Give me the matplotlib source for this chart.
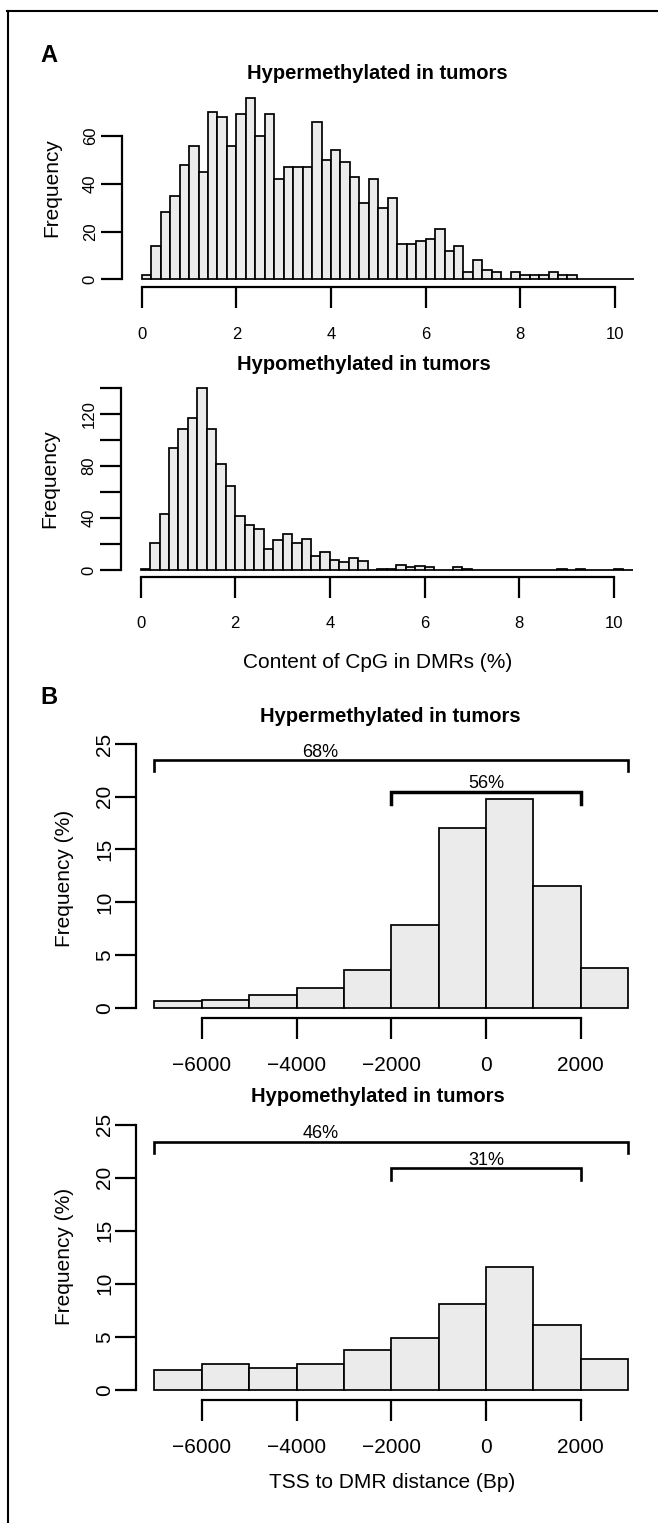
import matplotlib
matplotlib.use('Agg')
import matplotlib.pyplot as plt
from matplotlib.lines import Line2D
import numpy as np

plt.rcParams['font.family'] = ['Liberation Sans', 'DejaVu Sans']

W, H = 658, 1523

# ---------------- data ----------------
cpg_bin_start = 0.0
cpg_bin_width = 0.2
hyper_cpg_counts = [2, 14, 28, 35, 48, 56, 45, 70, 68, 56,
                    69, 76, 60, 69, 42, 47, 47, 47, 66, 50,
                    54, 49, 43, 32, 42, 30, 34, 15, 15, 16,
                    17, 21, 12, 14, 3, 8, 4, 3, 0, 3,
                    2, 2, 2, 3, 2, 2, 0, 0, 0, 0,
                    0, 0]
hypo_cpg_counts = [1, 21, 43, 94, 109, 117, 140, 109, 82, 65,
                   42, 35, 32, 16, 23, 28, 21, 24, 11, 14,
                   8, 6, 9, 7, 0, 1, 1, 4, 2, 3,
                   2, 0, 0, 2, 1, 0, 0, 0, 0, 0,
                   0, 0, 0, 0, 1, 0, 1, 0, 0, 0,
                   1, 0]
cpg_xticks = [0, 2, 4, 6, 8, 10]
hyper_cpg_yticks = [0, 20, 40, 60]
hypo_cpg_yticks = [0, 20, 40, 60, 80, 100, 120, 140]
hypo_cpg_ylabels = ['0', '', '40', '', '80', '', '120', '']

tss_bin_start = -7000
tss_bin_width = 1000
hyper_tss_pct = [0.63, 0.73, 1.23, 1.9, 3.57, 7.84, 17.07, 19.75, 11.57, 3.79]
hypo_tss_pct = [1.86, 2.42, 2.04, 2.42, 3.71, 4.84, 8.1, 11.6, 6.15, 2.86]
tss_xticks = [-6000, -4000, -2000, 0, 2000]
tss_yticks = [0, 5, 10, 15, 20, 25]

# (start, end, label, line y, tick bottom y, label x, label y, linewidth)
hyper_brackets = [(-7000, 3000, '68%', 23.45, 22.4, -3500, 23.8, 1.9),
                  (-2000, 2000, '56%', 20.45, 19.3, 0, 20.8, 2.5)]
hypo_brackets = [(-7000, 3000, '46%', 23.4, 22.3, -3500, 23.7, 1.9),
                 (-2000, 2000, '31%', 20.9, 19.8, 0, 21.2, 1.9)]

BAR_FACE = '#EBEBEB'

fig = plt.figure(figsize=(W / 100, H / 100), dpi=100)


def px_axes(l, r, t, b):
    return fig.add_axes([l / W, 1 - b / H, (r - l) / W, (b - t) / H])


def ftext(x, y, s, **kw):
    fig.text(x / W, 1 - y / H, s, **kw)


def style(ax, xticks, yticks, xlim, ylim, tick_fs, xpad, ypad):
    ax.set_xlim(xlim)
    ax.set_ylim(ylim)
    for s in ['top', 'right']:
        ax.spines[s].set_visible(False)
    ax.spines['left'].set_bounds(yticks[0], yticks[-1])
    ax.spines['bottom'].set_bounds(xticks[0], xticks[-1])
    for s in ['left', 'bottom']:
        ax.spines[s].set_linewidth(1.6)
    ax.set_xticks(xticks)
    ax.set_yticks(yticks)
    ax.tick_params(axis='both', direction='out', length=15, width=1.6,
                   labelsize=tick_fs)
    ax.tick_params(axis='x', pad=xpad)
    ax.tick_params(axis='y', pad=ypad, labelrotation=90)
    for lab in ax.get_yticklabels():
        lab.set_va('center')
    ax.patch.set_visible(False)


def draw_hist(ax, start, width, values):
    lefts = start + width * np.arange(len(values))
    ax.bar(lefts, values, width=width, align='edge', color=BAR_FACE,
           edgecolor='black', linewidth=1.25)


# ---------------- Panel A: hyper ----------------
a1 = px_axes(122.1, 653.4, 90.5, 286.6)
draw_hist(a1, cpg_bin_start, cpg_bin_width, hyper_cpg_counts)
style(a1, cpg_xticks, hyper_cpg_yticks, (-0.416, 10.816), (-3.04, 79.04),
      12, 14, 2.5)

# ---------------- Panel A: hypo ----------------
a2 = px_axes(120.9, 652.5, 381.1, 577.3)
draw_hist(a2, cpg_bin_start, cpg_bin_width, hypo_cpg_counts)
style(a2, cpg_xticks, hypo_cpg_yticks, (-0.416, 10.816), (-5.6, 145.6),
      12, 13, 2.5)
a2.set_yticklabels(hypo_cpg_ylabels)
for lab in a2.get_yticklabels():
    lab.set_va('center')

# ---------------- Panel B: hyper ----------------
b1 = px_axes(135.5, 647.1, 733.4, 1018.25)
draw_hist(b1, tss_bin_start, tss_bin_width, hyper_tss_pct)
style(b1, tss_xticks, tss_yticks, (-7400, 3400), (-1, 26), 15, 12, 0.5)

# ---------------- Panel B: hypo ----------------
b2 = px_axes(135.5, 647.1, 1114.1, 1400.3)
draw_hist(b2, tss_bin_start, tss_bin_width, hypo_tss_pct)
style(b2, tss_xticks, tss_yticks, (-7400, 3400), (-1, 26), 15, 12, 0.5)


def brackets(ax, specs):
    for x0, x1, lab, yl, yb, lx, ly, lw in specs:
        ax.plot([x0, x0, x1, x1], [yb, yl, yl, yb], color='black', lw=lw,
                solid_joinstyle='miter', clip_on=False)
        ax.text(lx, ly, lab, ha='center', va='baseline', fontsize=13)


brackets(b1, hyper_brackets)
brackets(b2, hypo_brackets)

# ---------------- texts ----------------
ftext(40.7, 62, 'A', fontsize=17, fontweight='bold', va='baseline')
ftext(40.7, 704, 'B', fontsize=17, fontweight='bold', va='baseline')

ftext(377, 79, 'Hypermethylated in tumors', fontsize=14.5,
      fontweight='bold', ha='center', va='baseline')
ftext(364, 369.5, 'Hypomethylated in tumors', fontsize=14.5,
      fontweight='bold', ha='center', va='baseline')
ftext(390, 721.5, 'Hypermethylated in tumors', fontsize=14.5,
      fontweight='bold', ha='center', va='baseline')
ftext(378, 1102, 'Hypomethylated in tumors', fontsize=14.5,
      fontweight='bold', ha='center', va='baseline')

ftext(377.7, 668, 'Content of CpG in DMRs (%)', fontsize=15,
      ha='center', va='baseline')
ftext(392, 1488, 'TSS to DMR distance (Bp)', fontsize=15,
      ha='center', va='baseline')

ftext(52, 187.5, 'Frequency', fontsize=15, rotation=90,
      ha='center', va='center')
ftext(50, 479, 'Frequency', fontsize=15, rotation=90,
      ha='center', va='center')
ftext(64, 878, 'Frequency (%)', fontsize=15, rotation=90,
      ha='center', va='center')
ftext(64, 1256, 'Frequency (%)', fontsize=15, rotation=90,
      ha='center', va='center')

# outer frame (top and left edges)
fig.add_artist(Line2D([7 / W, 1], [1 - 10.5 / H, 1 - 10.5 / H],
                      color='black', lw=1.5))
fig.add_artist(Line2D([8 / W, 8 / W], [1 - 10.5 / H, 0],
                      color='black', lw=1.5))

fig.savefig('out.png', dpi=100)
